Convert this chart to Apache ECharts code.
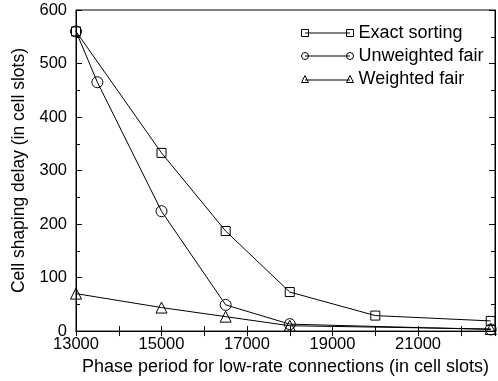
<!DOCTYPE html>
<html>
<head>
<meta charset="utf-8">
<script src="https://cdn.jsdelivr.net/npm/echarts@6/dist/echarts.min.js"></script>
<style>
  html, body { margin: 0; padding: 0; background: #fff; }
  #main { width: 498px; height: 381px; }
</style>
</head>
<body>
<div id="main"></div>
<script>
// data
var exactSorting = [[13000, 560], [15000, 333], [16500, 187], [18000, 73], [20000, 29], [22700, 19]];
var unweightedFair = [[13000, 560], [13500, 465], [15000, 224], [16500, 49], [18000, 13], [22700, 3]];
var weightedFair = [[13000, 70], [15000, 44], [16500, 27], [18000, 10], [22700, 4]];
var seriesNames = ['Exact sorting', 'Unweighted fair', 'Weighted fair'];
var xLabels = [13000, 15000, 17000, 19000, 21000];

var FONT = 'Liberation Sans, Arial, Helvetica, sans-serif';

// legend icons: marker - line - marker
var icons = [
    'path://M0,0 h7 v7 h-7 Z M3.5,3.5 H48.5 M45,0 h7 v7 h-7 Z',
    'path://M0,3.5 a3.5,3.5 0 1,0 7,0 a3.5,3.5 0 1,0 -7,0 M3.5,3.5 H48.5 M45,3.5 a3.5,3.5 0 1,0 7,0 a3.5,3.5 0 1,0 -7,0',
    'path://M3.5,0 L7,7 L0,7 Z M3.5,4.5 H48.5 M48.5,0 L52,7 L45,7 Z'
];

function mkSeries(name, data, symbol, size) {
    return {
        name: name,
        type: 'line',
        data: data,
        symbol: symbol,
        symbolSize: size,
        showAllSymbol: true,
        animation: false,
        lineStyle: { color: '#000', width: 1 },
        itemStyle: { color: 'rgba(0,0,0,0)', borderColor: '#000', borderWidth: 1 },
        emphasis: { disabled: true }
    };
}

var chart = echarts.init(document.getElementById('main'));
chart.setOption({
    animation: false,
    textStyle: { fontFamily: FONT, color: '#000' },
    grid: { left: 76, right: 1, top: 10, bottom: 49, show: true, borderColor: '#000', borderWidth: 1 },
    legend: {
        orient: 'vertical',
        left: 296,
        top: 19,
        itemWidth: 52,
        itemHeight: 7,
        itemGap: 5,
        textStyle: { fontFamily: FONT, fontSize: 18, color: '#000' },
        itemStyle: { color: 'rgba(0,0,0,0)', borderColor: '#000', borderWidth: 1 },
        data: seriesNames.map(function (n, i) { return { name: n, icon: icons[i] }; })
    },
    xAxis: [{
        type: 'value',
        min: 13000,
        max: 22800,
        interval: 1000,
        name: 'Phase period for low-rate connections (in cell slots)',
        nameLocation: 'middle',
        nameGap: 23,
        nameTextStyle: { fontFamily: FONT, fontSize: 18, color: '#000' },
        axisLine: { lineStyle: { color: '#000' } },
        axisTick: { inside: true, length: 5, lineStyle: { color: '#000' } },
        axisLabel: {
            margin: 5, fontFamily: FONT, fontSize: 16.5, color: '#000',
            formatter: function (v) { return xLabels.indexOf(v) >= 0 ? String(v) : ''; }
        },
        splitLine: { show: false }
    }, {
        type: 'value',
        position: 'top',
        min: 13000,
        max: 22800,
        interval: 1000,
        axisLine: { lineStyle: { color: '#000' } },
        axisTick: { inside: true, length: 5, lineStyle: { color: '#000' } },
        axisLabel: { show: false },
        splitLine: { show: false }
    }],
    yAxis: [{
        type: 'value',
        min: 0,
        max: 600,
        interval: 100,
        name: 'Cell shaping delay (in cell slots)',
        nameLocation: 'middle',
        nameGap: 45,
        nameTextStyle: { fontFamily: FONT, fontSize: 17.5, color: '#000' },
        axisLine: { lineStyle: { color: '#000' } },
        axisTick: { inside: true, length: 6, lineStyle: { color: '#000' } },
        minorTick: { show: true, splitNumber: 2, length: 4, lineStyle: { color: '#000' } },
        axisLabel: { margin: 9, fontFamily: FONT, fontSize: 16.5, color: '#000' },
        splitLine: { show: false }
    }, {
        type: 'value',
        position: 'right',
        min: 0,
        max: 600,
        interval: 100,
        axisLine: { lineStyle: { color: '#000' } },
        axisTick: { inside: true, length: 6, lineStyle: { color: '#000' } },
        minorTick: { show: true, splitNumber: 2, length: 4, lineStyle: { color: '#000' } },
        axisLabel: { show: false },
        splitLine: { show: false }
    }],
    series: [
        mkSeries(seriesNames[0], exactSorting, 'rect', 9),
        mkSeries(seriesNames[1], unweightedFair, 'circle', 11),
        mkSeries(seriesNames[2], weightedFair, 'triangle', 11)
    ]
});
</script>
</body>
</html>
